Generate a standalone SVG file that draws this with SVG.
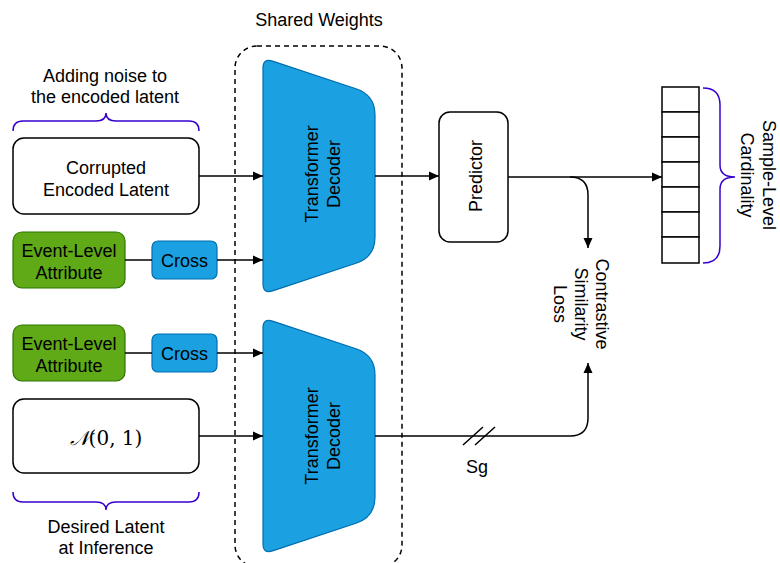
<svg xmlns="http://www.w3.org/2000/svg" width="780" height="563" viewBox="0 0 780 563">
<defs>
<marker id="arr" markerWidth="10" markerHeight="10" refX="10" refY="5" orient="auto" markerUnits="userSpaceOnUse">
<path d="M0,0.5 L10,5 L0,9.5 Z" fill="#000"/>
</marker>
<style>
text{font-family:"Liberation Sans",Arial,sans-serif;font-size:18px;fill:#000;text-anchor:middle}
.box{fill:#fff;stroke:#000;stroke-width:1.5}
.green{fill:#60a917;stroke:#2d7600;stroke-width:1.2}
.blue{fill:#1ba1e2;stroke:#006eaf;stroke-width:1.2}
.brace{fill:none;stroke:#3700cc;stroke-width:1.5}
.edge{fill:none;stroke:#000;stroke-width:1.5}
.cell{fill:#fff;stroke:#000;stroke-width:1.5}
</style>
</defs>
<rect width="780" height="563" fill="#fff"/>

<g id="shared">
<rect x="235" y="46" width="167" height="521" rx="22" fill="none" stroke="#000" stroke-width="1.5" stroke-dasharray="5 4"/>
<text x="319" y="26">Shared Weights</text>
</g>

<g id="noise-label">
<text x="105" y="82">Adding noise to</text>
<text x="105" y="103">the encoded latent</text>
<path class="brace" d="M13,131 Q13,121 23,121 L96,121 Q106,121 106,113 Q106,121 116,121 L189,121 Q199,121 199,131"/>
</g>

<g id="corrupted">
<rect class="box" x="13" y="138" width="186" height="76" rx="11"/>
<text x="106" y="174">Corrupted</text>
<text x="106" y="196">Encoded Latent</text>
</g>

<g id="event1">
<rect class="green" x="13" y="232" width="112" height="56" rx="9"/>
<text x="69" y="257">Event-Level</text>
<text x="69" y="279">Attribute</text>
</g>
<g id="cross1">
<rect class="blue" x="152" y="241" width="65" height="38" rx="6"/>
<text x="184.5" y="267">Cross</text>
</g>

<g id="event2">
<rect class="green" x="13" y="325" width="112" height="56" rx="9"/>
<text x="69" y="350">Event-Level</text>
<text x="69" y="372">Attribute</text>
</g>
<g id="cross2">
<rect class="blue" x="152" y="334" width="65" height="38" rx="6"/>
<text x="184.5" y="360">Cross</text>
</g>

<g id="normal">
<rect class="box" x="13" y="399" width="186" height="74" rx="11"/>
<text x="106" y="445" style="font-family:'DejaVu Serif','Liberation Serif',serif;font-size:20px"><tspan style="font-family:'DejaVu Sans','Noto Sans',sans-serif;font-style:italic">𝒩</tspan>(0, 1)</text>
</g>

<g id="desired-label">
<path class="brace" d="M13,492 Q13,502 23,502 L96,502 Q106,502 106,510 Q106,502 116,502 L189,502 Q199,502 199,492"/>
<text x="106" y="533">Desired Latent</text>
<text x="106" y="554">at Inference</text>
</g>

<g id="decoder1">
<path class="blue" d="M263,68 Q263,58 272.5,61.1 L356,88.7 Q375,95 375,115 L375,237 Q375,257 356,263.3 L272.5,290.9 Q263,294 263,284 Z"/>
<g transform="translate(0,174) rotate(-90)">
<text x="0" y="318">Transformer</text>
<text x="0" y="340">Decoder</text>
</g>
</g>

<g id="decoder2">
<path class="blue" d="M263,328 Q263,318 272.5,321.1 L356,348.7 Q375,355 375,375 L375,497 Q375,517 356,523.3 L272.5,550.9 Q263,554 263,544 Z"/>
<g transform="translate(0,436) rotate(-90)">
<text x="0" y="318">Transformer</text>
<text x="0" y="340">Decoder</text>
</g>
</g>

<g id="predictor">
<rect class="box" x="439" y="112" width="69" height="130" rx="11"/>
<g transform="translate(0,176) rotate(-90)">
<text x="0" y="482">Predictor</text>
</g>
</g>

<g id="array">
<rect class="cell" x="662" y="87" width="37" height="25"/>
<rect class="cell" x="662" y="112" width="37" height="25"/>
<rect class="cell" x="662" y="137" width="37" height="25"/>
<rect class="cell" x="662" y="162" width="37" height="25"/>
<rect class="cell" x="662" y="187" width="37" height="25"/>
<rect class="cell" x="662" y="212" width="37" height="25"/>
<rect class="cell" x="662" y="237" width="37" height="26"/>
<path class="brace" d="M703,88 Q720,88 720,105 L720,165 Q720,177 735,177 Q720,177 720,189 L720,246 Q720,263 703,263"/>
<g transform="translate(752,175) rotate(90)">
<text x="0" y="-11">Sample-Level</text>
<text x="0" y="11">Cardinality</text>
</g>
</g>

<g id="loss">
<g transform="translate(575,304) rotate(90)">
<text x="0" y="-21">Contrastive</text>
<text x="0" y="0">Similarity</text>
<text x="0" y="21">Loss</text>
</g>
</g>

<g id="connectors">
<path class="edge" d="M199,176 L263,176" marker-end="url(#arr)"/>
<path class="edge" d="M125,260 L152,260"/>
<path class="edge" d="M217,260 L263,260" marker-end="url(#arr)"/>
<path class="edge" d="M125,353 L152,353"/>
<path class="edge" d="M217,353 L263,353" marker-end="url(#arr)"/>
<path class="edge" d="M199,436 L263,436" marker-end="url(#arr)"/>
<path class="edge" d="M375,176 L439,176" marker-end="url(#arr)"/>
<path class="edge" d="M508,177 L662,177" marker-end="url(#arr)"/>
<path class="edge" d="M570,177 Q588,177 588,195 L588,248" marker-end="url(#arr)"/>
<path class="edge" d="M375,436 L570,436 Q588,436 588,418 L588,363" marker-end="url(#arr)"/>
<path class="edge" d="M463,445 L483,427 M475,445 L495,427"/>
<text x="477" y="473">Sg</text>
</g>
</svg>
